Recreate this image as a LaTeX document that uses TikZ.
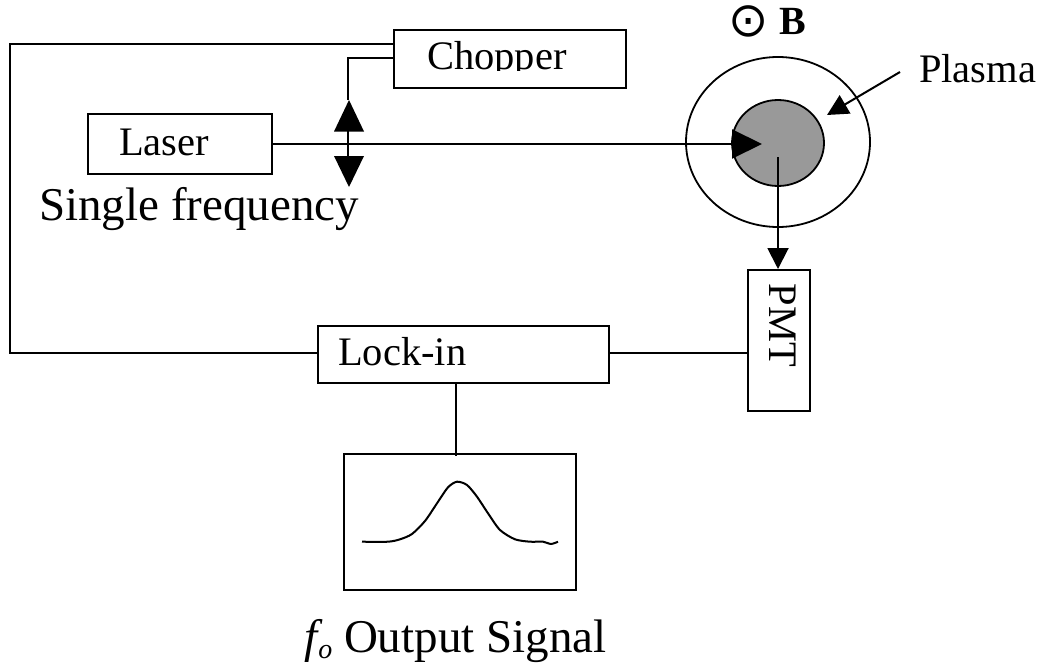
\documentclass[tikz,border=0pt]{standalone}
\usepackage{fontspec}
\setmainfont{Liberation Serif}
\newfontfamily\symfont{DejaVu Sans}
\usetikzlibrary{arrows.meta,calc,positioning}
\tikzset{
  box/.style={draw=black,line width=2pt,fill=white,inner sep=0pt,minimum width=#1},
  wire/.style={draw=black,line width=2pt},
  ring/.style={draw=black,line width=1.8pt},
  txt/.style={inner sep=0pt,anchor=base west,font=\fontsize{40.5}{48}\selectfont},
  bigtxt/.style={inner sep=0pt,anchor=base west,font=\fontsize{47}{56}\selectfont},
  headwire/.style={wire,-{Triangle[length=#1,width=#1]}}
}
\begin{document}
\begin{tikzpicture}[x=1pt,y=-1pt]
\useasboundingbox (0,0) rectangle (1043,666);
% rings
\draw[ring] (778,142) ellipse [x radius=92,y radius=85];
\fill[fill=black!40] (778,143) ellipse [x radius=46,y radius=43];
\draw[ring] (778,143) ellipse [x radius=46,y radius=43];
% boxes
\node[box=232pt,minimum height=58pt] (chopper) at (510,59) {};
\node[box=184pt,minimum height=60pt] (laser) at (180,144) {};
\node[box=291pt,minimum height=57pt] (lockin) at (463.5,354.5) {};
\node[box=62pt,minimum height=141pt] (pmt) at (779,340.5) {};
\node[box=232pt,minimum height=136pt] (scopebox) at (460,522) {};
% free connector ends
\coordinate (lensTop) at (349,100);
\coordinate (lensBot) at (349,187);
\coordinate (beamEnd) at (762,144);
\coordinate (emit) at (778,157);
\coordinate (plasmaTail) at (900,72);
\coordinate (plasmaTip) at (827,115);
% wires
\draw[wire] (chopper.west |- 0,44) -- (10,44) -- (10,353) -- (lockin.west |- 0,353);
\draw[wire] (chopper.west |- 0,58) -- (348,58) -- (348,100);
\fill (lensTop) -- (364,131.5) -- (334,131.5) -- cycle;
\fill (lensBot) -- (364,156) -- (334,156) -- cycle;
\draw[wire] (348,131) -- (348,156);
\draw[wire,-{Triangle[length=30pt,width=29pt]}] (laser.east) -- (beamEnd);
\draw[headwire=21pt] (emit) -- (emit |- pmt.north);
\draw[headwire=21pt] (plasmaTail) -- (plasmaTip);
\draw[wire] (lockin.east |- 0,353) -- (pmt.west |- 0,353);
\draw[wire] (456,383) -- (456,456);
% signal trace
\draw[line width=2pt,line join=round] plot[smooth,tension=0.45] coordinates {
 (362,541.7) (388,541.7) (400,539.3) (412,534) (425,521) (437,503.3) (448,487.3) (457,481.7)
 (467,485) (477,496.7) (488,513.3) (500,530) (515,539.3) (530,541.7) (543,541.7) (551,544) (558,541.7)};
% labels
\begin{scope}
\clip (400,36) rectangle (620,71);
\node[txt] (choppertxt) at (427,70) {Chopper};
\end{scope}
\node[txt] (lasertxt) at (119,155) {Laser};
\node[bigtxt] (singletxt) at (39,220) {Single frequency};
\node[txt] (plasmatxt) at (919,83) {Plasma};
\node[txt] (locktxt) at (338,365) {Lock-in};
\node[txt,rotate=-90,anchor=base west] (pmttxt) at (769,283.5) {PMT};
\node[bigtxt] (outtxt) at (304,652) {\textit{f\kern1pt\raisebox{-6.5pt}{\fontsize{28}{34}\selectfont o}} Output Signal};
\node[inner sep=0pt,anchor=base west,font=\fontsize{40}{48}\selectfont] (btxt) at (779,35) {\textbf{B}};
\node[inner sep=0pt,font=\symfont\fontsize{48}{56}\selectfont] (odot) at (749,21) {⊙};
\end{tikzpicture}
\end{document}
